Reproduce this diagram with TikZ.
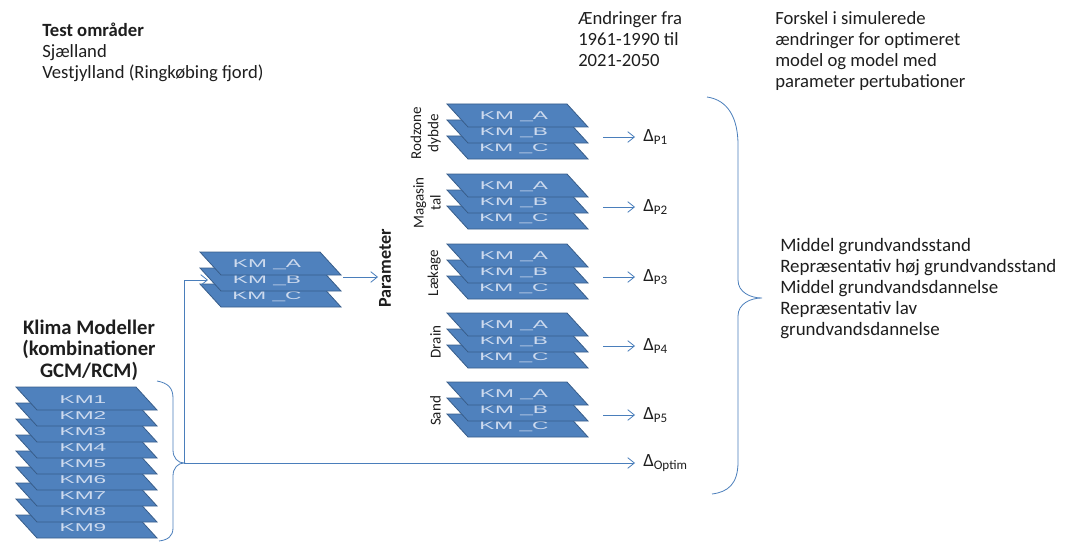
\documentclass[tikz,border=0pt]{standalone}
\usepackage{fontspec}
\setmainfont{Carlito}
\newfontfamily\slabfont{Liberation Sans}
\usetikzlibrary{arrows.meta}
\usetikzlibrary{positioning}

\definecolor{slabfill}{RGB}{79,129,189}
\definecolor{slabline}{RGB}{56,93,138}
\definecolor{linec}{RGB}{74,126,187}
\definecolor{slabtxt}{RGB}{205,218,238}
\definecolor{txtc}{RGB}{30,30,30}

% one flat model layer: top-left x, top-left y, label, name
\newcommand{\slab}[4]{%
  \filldraw[slab] ({#1},{#2}) -- ++(120,0) -- ++(21,23) -- ++(-120,0) -- cycle;
  \node[slabtext] (#4) at ({#1+67},{#2+13}) {\scalebox{1}[0.5]{#3}};}

\tikzset{
  slab/.style={fill=slabfill, draw=slabline, line width=0.6pt},
  slabtext/.style={text=slabtxt, font=\slabfont\fontsize{17}{17}\selectfont, inner sep=0pt},
  txt/.style={text=txtc, font=\fontsize{14}{15.75}\selectfont, align=left, inner sep=0pt},
  side/.style={text=txtc, font=\fontsize{11.3}{12.8}\selectfont, rotate=90, align=center, anchor=south, inner sep=0pt},
  conn/.style={draw=linec, line width=0.6pt},
  arr/.style={conn, -{Straight Barb[length=5pt,width=8pt]}},
}

\begin{document}
\begin{tikzpicture}[x=0.75pt,y=-0.75pt]
\useasboundingbox (0,0) rectangle (1068,542);

% texts
\node[txt, anchor=west] (omr) at (42,52) {\textbf{Test områder}\\Sjælland\\Vestjylland (Ringkøbing fjord)};
\node[txt, align=center, font=\fontsize{15.5}{16}\selectfont\bfseries] (klima) at (89,350) {Klima Modeller\\(kombinationer\\GCM/RCM)};
\node[txt, anchor=west] (aendr) at (578,39) {Ændringer fra\\1961-1990 til\\2021-2050};
\node[txt, anchor=west] (forskel) at (775,51) {Forskel i simulerede\\ændringer for optimeret\\model og model med\\parameter pertubationer};
\node[txt, anchor=west, font=\fontsize{14.2}{15.75}\selectfont] (effekt) at (780,289) {Middel grundvandsstand\\Repræsentativ høj grundvandsstand\\Middel grundvandsdannelse\\Repræsentativ lav\\grundvandsdannelse};

% klima modeller
\foreach \i in {9,8,...,1}
  \slab{16}{387+16*(\i-1)}{KM\i}{km\i};

% KM_A-C
\foreach \lab/\j in {C/2,B/1,A/0}
  \slab{200}{252+16*\j}{KM \_\lab}{abc\lab};

% parameter stacks
\foreach \t [count=\k] in {104,174,244,313,382}
  \foreach \lab/\j in {C/2,B/1,A/0}
    \slab{447}{\t+16*\j}{KM \_\lab}{p\k\lab};

\node[side, anchor=center, font=\fontsize{13.6}{15}\selectfont\bfseries] (param) at (385,268) {Parameter};
\node[side] (rod) at (441,133) {Rodzone\\dybde};
\node[side] (mag) at (441,203) {Magasin\\tal};
\node[side] (lak) at (441,273) {Lækage};
\node[side] (dra) at (441,342) {Drain};
\node[side] (san) at (441,411) {Sand};

% deltas
\foreach \y [count=\k] in {137,207,277,346,415} {
  \coordinate (s\k) at (603,\y);
  \node[txt, anchor=west] (d\k) at (643,\y) {Δ\textsubscript{P\k}};
  \draw[arr, shorten >=6pt] (s\k) -- (d\k.west);
}
\node[txt, anchor=west] (dopt) at (643,463) {Δ\textsubscript{Optim}};

% connectors
\coordinate (kmtip) at (184,463);
\coordinate (abcin) at (208,280);
\coordinate (abcout) at (343,277);
\coordinate (parin) at (378,277);
\draw[arr] (kmtip) |- (abcin);
\draw[arr, shorten >=6pt] (kmtip) -- (dopt.west);
\draw[arr] (abcout) -- (parin);

% braces
\draw[conn] (157,381) .. controls (168,383) and (173,388) .. (173,398) -- (173,450)
  .. controls (173,458) and (178,463) .. (kmtip)
  .. controls (178,463) and (173,468) .. (173,476) -- (173,528)
  .. controls (173,536) and (168,540) .. (159,541);
\draw[conn] (707,97) .. controls (728,100) and (738,118) .. (738,145) -- (738,280)
  .. controls (738,292) and (750,298) .. (762,298)
  .. controls (750,298) and (738,304) .. (738,316) -- (738,462)
  .. controls (738,484) and (728,492) .. (712,494);
\end{tikzpicture}
\end{document}
